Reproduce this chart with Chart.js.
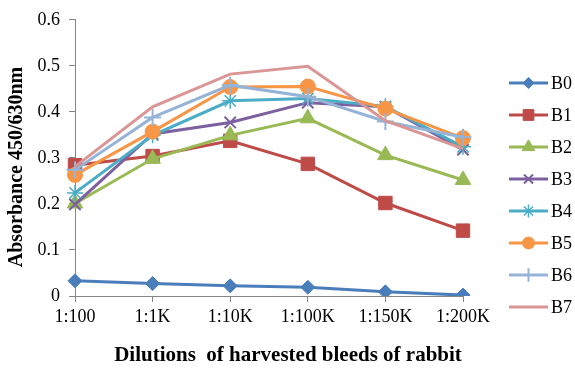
<!DOCTYPE html>
<html>
<head>
<meta charset="utf-8">
<script src="https://cdn.jsdelivr.net/npm/chart.js@4/dist/chart.umd.min.js"></script>
<style>
  html, body { margin: 0; padding: 0; background: #ffffff; }
  #wrap { width: 575px; height: 369px; }
</style>
</head>
<body>
<div id="wrap"><canvas id="c" width="575" height="369"></canvas></div>
<script>
// Dilution series (x categories)
const categories = ['1:100', '1:1K', '1:10K', '1:100K', '1:150K', '1:200K'];

// Absorbance 450/630nm per bleed
const b0 = [0.033, 0.027, 0.022, 0.019, 0.009, 0.002];
const b1 = [0.284, 0.304, 0.337, 0.287, 0.202, 0.142];
const b2 = [0.201, 0.298, 0.349, 0.386, 0.306, 0.252];
const b3 = [0.199, 0.352, 0.377, 0.420, 0.411, 0.318];
const b4 = [0.224, 0.349, 0.424, 0.429, 0.412, 0.324];
const b5 = [0.263, 0.357, 0.454, 0.455, 0.407, 0.343];
const b6 = [0.274, 0.388, 0.458, 0.433, 0.379, 0.345];
const b7 = [0.281, 0.411, 0.482, 0.499, 0.381, 0.320];

const seriesNames = ['B0', 'B1', 'B2', 'B3', 'B4', 'B5', 'B6', 'B7'];
const seriesValues = [b0, b1, b2, b3, b4, b5, b6, b7];

// y axis ticks
const yTickValues = [0, 0.1, 0.2, 0.3, 0.4, 0.5, 0.6];
const yTickLabels = ['0', '0.1', '0.2', '0.3', '0.4', '0.5', '0.6'];

const xTitle = 'Dilutions  of harvested bleeds of rabbit';
const yTitle = 'Absorbance 450/630nm';

const FONT = "'Liberation Serif', 'Times New Roman', serif";

// Line colour and marker per series
const styles = [
  { color: '#4A7EBB', marker: 'rectRot',  radius: 7,   fill: '#4A7EBB', border: '#4A7EBB', bw: 1 },
  { color: '#BE4B48', marker: 'rect',     radius: 9.5, fill: '#BE4B48', border: '#BE4B48', bw: 1 },
  { color: '#98B954', marker: 'triangle', radius: 9,   fill: '#98B954', border: '#98B954', bw: 1 },
  { color: '#7D60A0', marker: 'crossRot', radius: 8,   fill: '#7D60A0', border: '#7D60A0', bw: 2 },
  { color: '#4BACC6', marker: 'star',     radius: 8,   fill: '#4BACC6', border: '#4BACC6', bw: 1.5 },
  { color: '#F79646', marker: 'circle',   radius: 7.5, fill: '#F79646', border: '#F79646', bw: 1 },
  { color: '#95B3D7', marker: 'cross',    radius: 8.5, fill: '#95B3D7', border: '#95B3D7', bw: 2 },
  { color: '#D99694', marker: false,      radius: 0,   fill: '#D99694', border: '#D99694', bw: 0 }
];

const datasets = seriesNames.map((name, i) => ({
  label: name,
  data: seriesValues[i],
  borderColor: styles[i].color,
  backgroundColor: styles[i].color,
  borderWidth: 3,
  tension: 0,
  pointStyle: styles[i].marker,
  pointRadius: styles[i].radius,
  pointHoverRadius: styles[i].radius,
  pointBackgroundColor: styles[i].fill,
  pointBorderColor: styles[i].border,
  pointBorderWidth: styles[i].bw,
  order: seriesNames.length - 1 - i   // later series painted on top
}));

function paintMarker(ctx, style, radius, bw, x, y) {
  if (!style || radius <= 0) return;
  if (Chart.helpers && Chart.helpers.drawPoint) {
    Chart.helpers.drawPoint(ctx, { pointStyle: style, radius: radius, rotation: 0, borderWidth: bw }, x, y);
  }
}

// Legend column on the right
const sideLegend = {
  id: 'sideLegend',
  afterDraw(chart) {
    const ctx = chart.ctx;
    const x0 = 509, x1 = 548, textX = 551, top = 83, step = 32;
    ctx.save();
    seriesNames.forEach((name, i) => {
      const y = top + i * step;
      const s = styles[i];
      ctx.beginPath();
      ctx.strokeStyle = s.color;
      ctx.lineWidth = 3;
      ctx.moveTo(x0, y);
      ctx.lineTo(x1, y);
      ctx.stroke();
      ctx.fillStyle = s.fill;
      ctx.strokeStyle = s.border;
      ctx.lineWidth = s.bw;
      paintMarker(ctx, s.marker, s.radius * 0.8, s.bw, (x0 + x1) / 2, y);
      ctx.fillStyle = '#000000';
      ctx.font = '18px ' + FONT;
      ctx.textAlign = 'left';
      ctx.textBaseline = 'middle';
      ctx.fillText(name, textX, y + 1);
    });
    ctx.restore();
  }
};

// Axis captions: rotated y caption and the x caption centred on the canvas
const axisCaptions = {
  id: 'axisCaptions',
  afterDraw(chart) {
    const ctx = chart.ctx;
    ctx.save();
    ctx.fillStyle = '#000000';
    ctx.textAlign = 'center';
    ctx.textBaseline = 'middle';
    ctx.font = 'bold 21px ' + FONT;
    ctx.fillText(xTitle, 288, 356);
    ctx.translate(17, 167);
    ctx.rotate(-Math.PI / 2);
    ctx.font = 'bold 20px ' + FONT;
    ctx.fillText(yTitle, 0, 0);
    ctx.restore();
  }
};

const whiteBg = {
  id: 'whiteBg',
  beforeDraw(chart) {
    const ctx = chart.ctx;
    ctx.save();
    ctx.fillStyle = '#ffffff';
    ctx.fillRect(0, 0, chart.width, chart.height);
    ctx.restore();
  }
};

new Chart(document.getElementById('c'), {
  type: 'line',
  data: { labels: categories, datasets: datasets },
  options: {
    responsive: false,
    animation: false,
    devicePixelRatio: 1,
    layout: { padding: { left: 0, right: 112, top: 16, bottom: 0 } },
    plugins: {
      legend: { display: false },
      tooltip: { enabled: false },
      title: { display: false }
    },
    scales: {
      x: {
        type: 'category',
        offset: false,
        grid: { drawOnChartArea: false, drawTicks: true, tickLength: 6, color: '#868686', tickColor: '#868686' },
        border: { color: '#868686', width: 1 },
        ticks: { color: '#000000', font: { family: FONT, size: 18 }, padding: 4, maxRotation: 0, autoSkip: false },
        afterFit(scale) { scale.height = 73; }
      },
      y: {
        min: 0,
        max: 0.6,
        afterBuildTicks(scale) { scale.ticks = yTickValues.map(v => ({ value: v })); },
        grid: { drawOnChartArea: false, drawTicks: true, tickLength: 6, color: '#868686', tickColor: '#868686' },
        border: { color: '#868686', width: 1 },
        ticks: {
          color: '#000000',
          font: { family: FONT, size: 18 },
          padding: 9,
          callback(value) {
            const idx = yTickValues.findIndex(v => Math.abs(v - value) < 1e-9);
            return idx >= 0 ? yTickLabels[idx] : '';
          }
        },
        afterFit(scale) { scale.width = 75; }
      }
    }
  },
  plugins: [whiteBg, sideLegend, axisCaptions]
});
</script>
</body>
</html>
